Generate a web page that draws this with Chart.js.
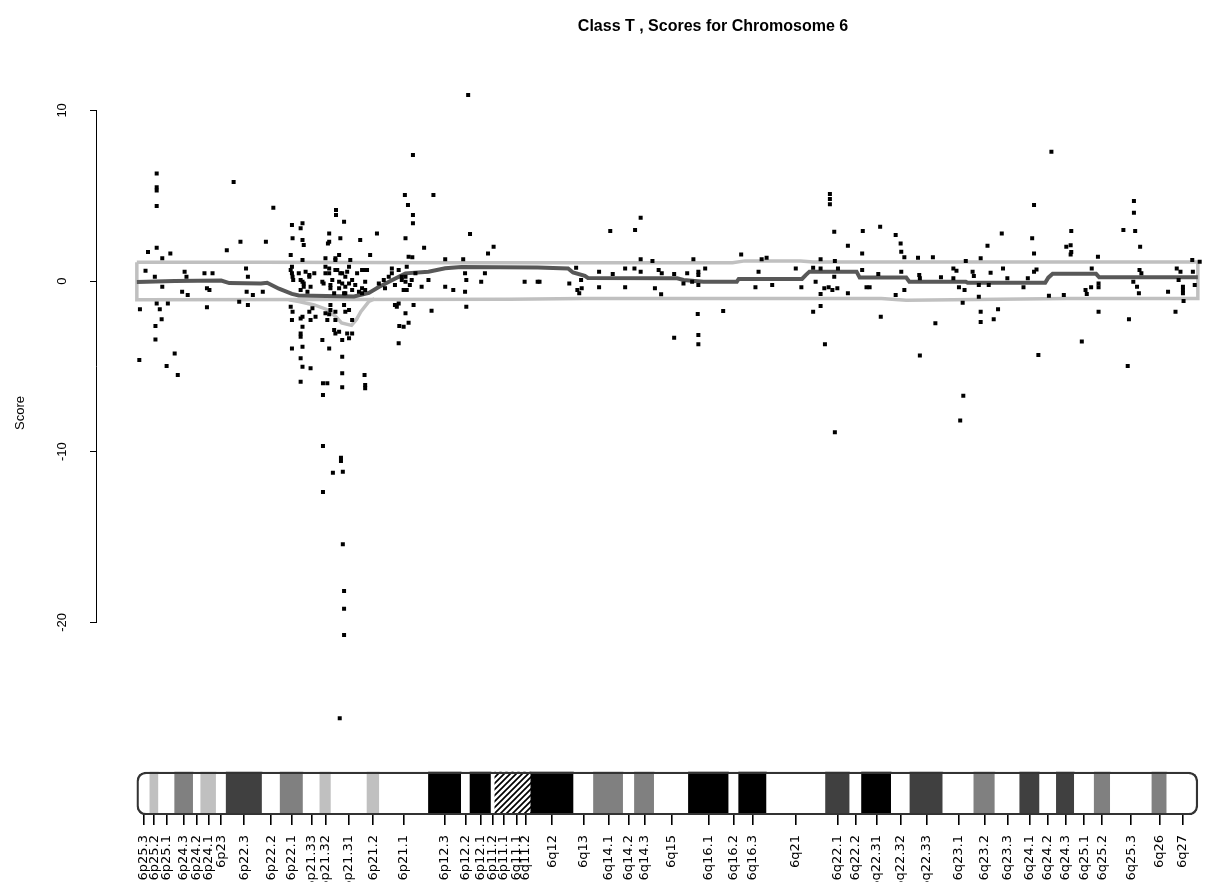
<!DOCTYPE html>
<html>
<head>
<meta charset="utf-8">
<script src="https://cdn.jsdelivr.net/npm/chart.js@4.4.1/dist/chart.umd.min.js"></script>
<style>
  html, body { margin: 0; padding: 0; background: #fff; }
  #wrap { position: relative; width: 1208px; height: 882px; }
</style>
</head>
<body>
<div id="wrap"><canvas id="chart"></canvas></div>
<script>
const titleText = "Class T , Scores for Chromosome 6";
const yTicks = [-20, -10, 0, 10];

// cytobands of chromosome 6 (position in Mb, as drawn)
const bandName = ["6p25.3","6p25.2","6p25.1","6p24.3","6p24.2","6p24.1","6p23","6p22.3","6p22.2","6p22.1",
  "6p21.33","6p21.32","6p21.31","6p21.2","6p21.1","6p12.3","6p12.2","6p12.1","6p11.2","6p11.1",
  "6q11.1","6q11.2","6q12","6q13","6q14.1","6q14.2","6q14.3","6q15","6q16.1","6q16.2","6q16.3","6q21",
  "6q22.1","6q22.2","6q22.31","6q22.32","6q22.33","6q23.1","6q23.2","6q23.3","6q24.1","6q24.2","6q24.3",
  "6q25.1","6q25.2","6q25.3","6q26","6q27"];
const bandStart = [0,2.1,3.5,6.1,9.1,10.3,12.8,14.4,20.2,23.1,26.8,29.5,31.3,37.1,39.1,47.0,52.3,53.7,57.1,57.7,
  60.6,61.8,63.5,70.4,73.6,78.4,80.2,83.4,88.9,95.4,97.0,101.5,111.0,114.9,116.8,121.6,124.6,129.9,134.9,138.3,
  142.3,145.5,148.2,151.1,154.3,156.9,163.6,166.0];
const bandEnd = [2.1,3.5,6.1,9.1,10.3,12.8,14.4,20.2,23.1,26.8,29.5,31.3,37.1,39.1,47.0,52.3,53.7,57.1,57.7,60.6,
  61.8,63.5,70.4,73.6,78.4,80.2,83.4,88.9,95.4,97.0,101.5,111.0,114.9,116.8,121.6,124.6,129.9,134.9,138.3,142.3,
  145.5,148.2,151.1,154.3,156.9,163.6,166.0,171.0];
const bandStain = ["gneg","gpos25","gneg","gpos50","gneg","gpos25","gneg","gpos75","gneg","gpos50",
  "gneg","gpos25","gneg","gpos25","gneg","gpos100","gneg","gpos100","gneg","acen",
  "acen","gvar","gpos100","gneg","gpos50","gneg","gpos50","gneg","gpos100","gneg","gpos100","gneg",
  "gpos75","gneg","gpos100","gneg","gpos75","gneg","gpos50","gneg","gpos75","gneg","gpos75",
  "gneg","gpos50","gneg","gpos50","gneg"];

// probe scores: [position Mb, score]
const probes = [
  [3.2,6.3],[3.2,5.5],[3.2,5.3],[3.2,4.4],[15.6,5.8],[22.0,4.3],[16.7,2.3],[20.8,2.3],[14.5,1.8],[1.8,1.7],
  [3.2,1.95],[4.1,1.33],[5.4,1.62],[1.4,0.6],[2.9,0.25],[4.1,-0.33],[7.7,0.55],[8.0,0.25],[7.3,-0.63],[8.2,-0.82],
  [10.9,0.45],[12.2,0.45],[11.3,-0.43],[11.7,-0.53],[17.6,0.74],[17.9,0.25],[17.7,-0.63],[18.7,-0.82],[20.3,-0.63],
  [0.5,-1.66],[3.2,-1.31],[3.7,-1.66],[5.0,-1.31],[11.3,-1.54],[16.5,-1.21],[17.9,-1.41],[4.0,-2.24],[3.0,-2.64],
  [3.0,-3.42],[6.1,-4.24],[4.8,-4.98],[6.6,-5.51],[0.4,-4.63],
  [25.1,2.5],[26.9,2.11],[26.7,2.4],[31.0,2.79],[31.0,2.3],[32.8,2.5],[36.0,2.4],[38.7,2.79],[43.3,2.5],[24.8,1.52],
  [26.7,1.23],[30.4,1.33],[32.6,1.52],[32.0,1.33],[34.4,1.23],[37.6,1.52],
  [24.8,0.64],[25.1,0.25],[26.1,0.45],[26.4,0.06],[27.2,0.55],[26.9,-0.14],[27.8,0.35],[28.0,-0.33],[26.4,-0.53],
  [27.5,-0.63],[30.4,0.45],[30.1,-0.14],[31.0,0.74],[31.5,0.06],[31.2,-0.43],[32.0,0.64],[31.8,-0.72],[32.8,0.45],
  [33.1,-0.14],[32.6,-0.43],[33.6,0.25],[33.9,0.55],[33.4,-0.72],[34.2,-0.14],[34.7,-0.53],[35.2,-0.23],[35.8,-0.63],
  [36.3,-0.43],[36.8,0.64],[36.8,-0.53],[39.0,-0.14],[39.8,0.06],[40.6,0.25],[41.1,0.45],[40.0,-0.43],[41.6,-0.23],
  [42.2,0.64],[43.0,-0.53],[43.3,0.25],[43.5,0.84],[42.7,0.06],
  [25.0,0.84],[25.0,0.45],[25.2,0.06],[26.7,-0.04],[26.9,-0.33],[27.8,0.25],[28.6,0.45],[29.9,-0.04],[30.4,0.84],
  [31.0,0.45],[31.2,-0.23],[32.0,1.23],[32.3,0.64],[32.6,-0.04],[33.1,0.45],[33.6,-0.33],[34.2,0.84],[34.7,0.06],
  [35.5,0.45],[36.3,0.64],[36.8,-0.04],[33.6,-0.72],[36.3,-0.72],[37.1,0.64],
  [24.8,-1.5],[25.1,-1.8],[26.4,-2.19],[26.7,-2.68],[26.4,-3.26],[27.8,-1.8],[28.3,-1.6],[28.8,-2.09],[30.4,-1.89],
  [30.7,-2.28],[31.2,-1.7],[32.0,-1.8],[33.4,-1.41],[33.6,-1.8],[34.2,-1.7],[34.7,-2.28],[32.6,-2.97],[33.1,-3.46],
  [33.9,-3.07],[31.8,-2.87],[34.2,-3.36],[43.3,-1.89],[43.0,-2.68],[42.2,-1.31],[41.9,-1.5],
  [25.0,-2.28],[26.7,-2.09],[26.4,-3.07],[26.7,-3.85],[25.0,-3.95],[26.4,-4.53],[26.7,-5.02],[28.0,-5.11],[26.4,-5.9],
  [28.0,-2.28],[31.0,-1.95],[31.2,-1.41],[32.0,-2.28],[32.0,-3.07],[31.0,-3.95],[33.1,-4.43],[29.9,-3.46],[30.0,-5.99],
  [30.7,-5.99],[30.0,-6.68],[33.1,-5.41],[33.1,-6.23],[36.7,-5.51],[36.8,-6.09],[36.8,-6.29],[34.7,-3.07],
  [30.0,-9.67],[32.9,-10.35],[32.9,-10.55],[31.6,-11.23],[33.2,-11.17],[30.0,-12.36],[33.2,-15.43],[33.4,-18.16],
  [33.4,-19.2],[33.4,-20.74],[32.7,-25.62],
  [32.1,4.16],[32.1,3.87],[33.4,3.47],[25.0,3.28],[26.7,3.38],[26.4,3.09],[30.8,2.2],
  [44.5,7.38],[47.8,5.04],[43.2,5.04],[43.7,4.45],[44.5,3.87],[44.5,3.38],[53.7,2.75],[57.5,2.01],[56.6,1.62],
  [46.3,1.95],[43.8,1.42],[44.4,1.4],[49.7,1.27],[52.6,1.27],[53.4,10.9],
  [41.1,0.74],[42.7,0.25],[43.3,-0.04],[44.0,-0.23],[43.5,-0.53],[44.3,0.06],[44.9,0.45],[45.9,-0.33],[47.0,0.06],
  [49.7,-0.33],[51.0,-0.53],[52.9,0.45],[53.1,0.06],[52.9,-0.63],[55.5,-0.04],[56.1,0.45],[62.5,-0.04],[64.6,-0.04],
  [53.1,-1.5],[41.6,-1.41],[43.8,-2.44],[42.3,-2.64],[42.2,-3.65],[44.6,-1.41],[47.5,-1.74],
  [81.2,3.71],[80.3,2.99],[76.3,2.93],[81.2,1.27],[83.1,1.17],[89.7,1.27],[97.4,1.56],[100.7,1.27],[101.5,1.37],
  [111.7,5.1],[111.7,4.8],[111.7,4.5],[112.4,2.89],[117.0,2.93],[114.6,2.07],[116.9,1.62],[110.2,1.27],[112.5,1.17],
  [64.9,-0.04],[69.7,-0.14],[70.8,0.78],[71.6,0.06],[71.0,-0.53],[71.3,-0.72],[71.7,-0.43],[74.5,0.55],[74.5,-0.37],
  [76.7,0.41],[78.7,0.74],[78.7,-0.37],[80.2,0.74],[81.2,0.55],[83.5,-0.43],[84.5,-0.78],[84.1,0.64],[84.6,0.45],
  [86.6,0.41],[88.1,-0.14],[88.7,0.45],[90.5,0.55],[90.5,0.35],[90.5,-0.23],[91.6,0.74],[89.5,-0.04],[99.7,-0.37],
  [100.2,0.55],[102.4,-0.23],[106.2,0.74],[107.1,-0.37],[109.0,0.78],[110.2,0.74],[109.4,-0.04],[110.8,-0.43],
  [111.5,-0.37],[112.1,-0.53],[110.2,-0.76],[112.9,-0.43],[112.4,0.25],[113.0,0.74],[114.6,-0.72],[116.9,0.64],
  [117.6,-0.37],
  [90.4,-1.93],[94.5,-1.76],[86.6,-3.32],[90.5,-3.16],[90.5,-3.71],[110.2,-1.46],[109.0,-1.8],[110.9,-3.71],
  [112.5,-8.86],
  [147.4,7.57],[160.7,4.69],[160.7,4.0],[144.6,4.45],[159.0,2.99],[160.9,2.93],[161.7,2.01],[139.4,2.79],[137.1,2.07],
  [144.3,2.5],[150.6,2.93],[150.5,2.1],[150.6,1.7],[144.6,1.62],[154.9,1.42],[122.3,2.69],[123.1,2.2],[119.8,3.18],
  [123.2,1.72],[123.7,1.39],[125.9,1.37],[128.3,1.39],[136.0,1.33],[149.8,2.01],[150.5,1.56],[170.1,1.23],[171.3,1.13],
  [126.2,-4.37],[128.7,-2.48],[119.9,-2.09],[133.2,-6.72],[132.7,-8.18],[136.0,-1.8],[136.0,-2.4],[138.1,-2.24],
  [138.8,-1.66],[145.3,-4.33],[152.3,-3.55],[155.0,-1.8],[159.7,-4.98],[159.9,-2.24],[167.4,-1.8],[168.7,-1.17],
  [133.1,-1.27],[135.7,-0.92],
  [118.1,-0.37],[119.5,0.41],[122.3,-0.82],[123.2,0.55],[123.7,-0.53],[126.1,0.35],[126.2,0.16],[129.6,0.22],
  [131.6,0.74],[132.1,0.6],[131.6,0.16],[132.5,-0.37],[133.4,-0.53],[133.6,1.17],[134.7,0.55],[134.9,0.29],
  [135.7,-0.23],[137.3,-0.23],[137.6,0.49],[139.6,0.74],[140.3,0.16],[142.9,-0.37],[143.6,0.16],[144.6,0.55],
  [145.0,0.68],[147.0,-0.86],[149.4,-0.82],[152.9,-0.53],[153.1,-0.76],[153.8,-0.37],[153.9,0.74],[155.0,-0.14],
  [155.0,-0.37],[160.6,-0.04],[161.2,-0.33],[161.5,-0.72],[161.6,0.64],[161.9,0.45],[166.2,-0.63],[167.6,0.74],
  [168.2,0.55],[167.9,0.06],[168.6,-0.33],[168.6,-0.53],[168.6,-0.72],[170.2,0.55],[170.5,-0.23]
];

// smoothed score (dark line)
const trendPos = [0,6.1,13.6,14.9,20.0,21.0,22.9,25.0,26.1,35.0,37.4,39.0,41.1,43.3,47.0,49.7,52.3,64.6,69.5,70.3,
  72.2,72.7,87.1,88.1,91.3,96.7,97.0,107.2,107.8,108.4,116.0,116.5,124.0,124.5,133.6,133.9,146.4,146.9,147.6,
  154.6,155.1,171.0];
const trendScore = [-0.05,0.0,0.03,-0.12,-0.15,-0.1,-0.45,-0.75,-0.85,-0.9,-0.7,-0.35,0.05,0.45,0.55,0.75,0.82,0.8,
  0.74,0.5,0.3,0.18,0.16,0.06,-0.04,-0.04,0.12,0.12,0.35,0.55,0.55,0.2,0.2,-0.04,-0.04,-0.1,-0.1,0.2,0.42,0.42,
  0.22,0.22];

// threshold band (light grey box)
const upperPos = [0,20,52,96,98,107,109,171];
const upperScore = [1.1,1.1,1.07,1.07,1.18,1.18,1.12,1.12];
const lowerPos = [0,60,72,120,124,150,171];
const lowerScore = [-1.1,-1.07,-1.02,-1.02,-1.12,-1.02,-1.02];
// lower curve dipping below the band
const dipPos = [24.5,26.1,28.6,30.5,32.1,33.0,34.6,35.4,36.1,37.4,38.3];
const dipScore = [-1.1,-1.2,-1.4,-1.65,-2.1,-2.45,-2.6,-2.25,-1.8,-1.2,-1.05];

const stainColor = { gneg: "#ffffff", gpos25: "#c0c0c0", gpos50: "#808080", gpos75: "#404040", gpos100: "#000000" };
const ideoCenter = -30.03;

function hatchPattern() {
  const c = document.createElement("canvas");
  c.width = 6; c.height = 6;
  const g = c.getContext("2d");
  g.fillStyle = "#fff";
  g.fillRect(0, 0, 6, 6);
  g.strokeStyle = "#000";
  g.lineWidth = 1.7;
  g.beginPath();
  g.moveTo(-1, 7); g.lineTo(7, -1);
  g.moveTo(-4, 4); g.lineTo(4, -4);
  g.moveTo(2, 10); g.lineTo(10, 2);
  g.stroke();
  return g.createPattern(c, "repeat");
}
const hatch = hatchPattern();

const nBand = bandName.length;
const bandData = bandStart.map((s, i) => ({ x: [s, bandEnd[i]], y: ideoCenter }));
bandData.push({ x: [bandStart[0], bandEnd[nBand - 1]], y: ideoCenter }); // outline
const bandFill = bandStain.map(s => stainColor[s] || hatch);
bandFill.push("rgba(0,0,0,0)");
const bandBorder = bandStain.map(() => 0);
bandBorder.push(1.6);
const bandRadius = bandStain.map(() => 0);
bandRadius.push(9);
const tickPos = bandStart.map((s, i) => (s + bandEnd[i]) / 2);

const boxData = upperPos.map((p, i) => ({ x: p, y: upperScore[i] }))
  .concat(lowerPos.map((p, i) => ({ x: p, y: lowerScore[i] })).reverse());
boxData.push({ x: upperPos[0], y: upperScore[0] });

const decor = {
  id: "decor",
  afterDraw(chart) {
    const { ctx, chartArea } = chart;
    const y = chart.scales.y;
    ctx.save();
    ctx.strokeStyle = "#000";
    ctx.lineWidth = 1;
    const x0 = Math.round(chartArea.left) - 0.5;
    ctx.beginPath();
    ctx.moveTo(x0, y.getPixelForValue(yTicks[yTicks.length - 1]));
    ctx.lineTo(x0, y.getPixelForValue(yTicks[0]));
    ctx.stroke();
    ctx.fillStyle = "#000";
    ctx.textAlign = "center";
    ctx.textBaseline = "middle";
    ctx.font = 'bold 16px "Liberation Sans", Arial, sans-serif';
    ctx.fillText(titleText, 713, 27);
    ctx.translate(20, 413);
    ctx.rotate(-Math.PI / 2);
    ctx.font = '13px "Liberation Sans", Arial, sans-serif';
    ctx.fillText("Score", 0, 0);
    ctx.restore();
  }
};

new Chart(document.getElementById("chart"), {
  type: "scatter",
  data: {
    datasets: [
      {
        type: "scatter",
        data: probes.map(p => ({ x: p[0], y: p[1] })),
        pointStyle: "rect",
        pointRadius: 2.83,
        pointBorderWidth: 0,
        pointBackgroundColor: "#000",
        order: 1
      },
      {
        type: "line",
        data: trendPos.map((p, i) => ({ x: p, y: trendScore[i] })),
        borderColor: "#585858",
        borderWidth: 4,
        pointRadius: 0,
        tension: 0,
        order: 2
      },
      {
        type: "line",
        data: boxData,
        borderColor: "#c0c0c0",
        borderWidth: 3.5,
        pointRadius: 0,
        tension: 0,
        order: 3
      },
      {
        type: "line",
        data: dipPos.map((p, i) => ({ x: p, y: dipScore[i] })),
        borderColor: "#c0c0c0",
        borderWidth: 3.5,
        pointRadius: 0,
        tension: 0,
        order: 3
      },
      {
        type: "bar",
        indexAxis: "y",
        data: bandData,
        backgroundColor: bandFill,
        borderColor: "#333",
        borderWidth: bandBorder,
        borderRadius: bandRadius,
        borderSkipped: false,
        barThickness: 43,
        order: 4
      }
    ]
  },
  options: {
    responsive: true,
    maintainAspectRatio: false,
    animation: false,
    events: [],
    layout: { padding: { top: 80, left: 0, right: 0, bottom: 0 } },
    plugins: { legend: { display: false }, tooltip: { enabled: false }, title: { display: false } },
    scales: {
      x: {
        type: "linear",
        min: -6.42,
        max: 171.8,
        offset: false,
        border: { display: false },
        grid: { drawOnChartArea: false, drawTicks: true, tickLength: 10, color: "#000", lineWidth: 1.6, offset: false },
        afterBuildTicks: s => { s.ticks = tickPos.map(v => ({ value: v })); },
        afterFit: s => { s.height = 67; },
        ticks: {
          autoSkip: false,
          minRotation: 90,
          maxRotation: 90,
          padding: 10,
          color: "#000",
          font: { family: '"DejaVu Sans", sans-serif', size: 13 },
          callback: (v, i) => bandName[i]
        }
      },
      y: {
        type: "linear",
        min: -31.29,
        max: 11.78,
        offset: false,
        border: { display: false },
        grid: { drawOnChartArea: false, drawTicks: true, tickLength: 7, color: "#000", lineWidth: 1, offset: false },
        afterBuildTicks: s => { s.ticks = yTicks.map(v => ({ value: v })); },
        afterFit: s => { s.width = 97; },
        ticks: {
          minRotation: 90,
          maxRotation: 90,
          crossAlign: "center",
          padding: 18,
          color: "#000",
          font: { family: '"Liberation Sans", Arial, sans-serif', size: 13 },
          callback: v => String(v)
        }
      }
    }
  },
  plugins: [decor]
});
</script>
</body>
</html>
